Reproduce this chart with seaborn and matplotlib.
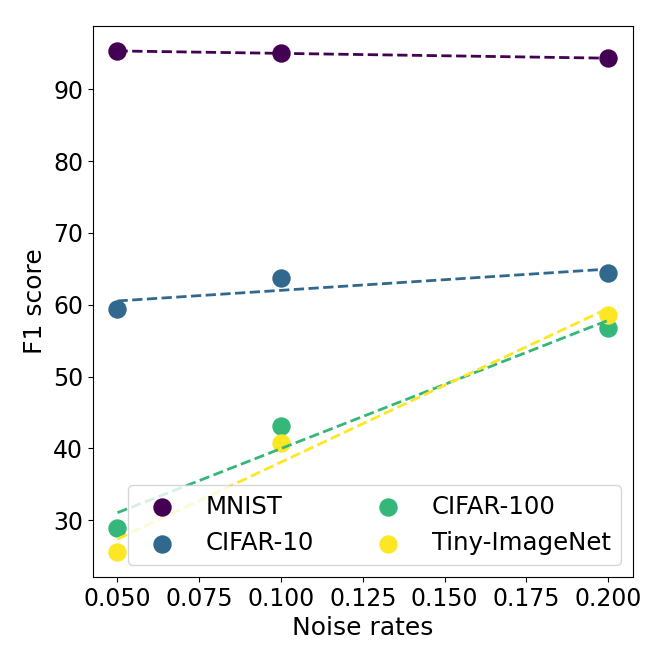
import numpy as np
import pandas as pd
import matplotlib
matplotlib.use('Agg')
import matplotlib.pyplot as plt
import seaborn as sns

# Noise rates and F1 scores
noise_rates = [0.05, 0.1, 0.2]
datasets = ['MNIST', 'CIFAR-10', 'CIFAR-100', 'Tiny-ImageNet']
mnist = [95.3, 95.0, 94.3]
cifar10 = [59.4, 63.7, 64.4]
cifar100 = [29.0, 43.1, 56.8]
tiny = [25.6, 40.8, 58.6]

scores = {'MNIST': mnist, 'CIFAR-10': cifar10, 'CIFAR-100': cifar100, 'Tiny-ImageNet': tiny}
colors = sns.color_palette('viridis', as_cmap=True)(np.linspace(0, 1, len(datasets)))

fig, ax = plt.subplots(figsize=(6.64, 6.64), dpi=100)
fig.subplots_adjust(left=0.140, right=0.953, top=0.961, bottom=0.131)

for name, c in zip(datasets, colors):
    df = pd.DataFrame({'noise': noise_rates, 'f1': scores[name]})
    sns.regplot(data=df, x='noise', y='f1', ax=ax, ci=None, color=c, label=name,
                scatter_kws={'s': 150, 'alpha': 1},
                line_kws={'linestyle': '--', 'linewidth': 2})

ax.set_xlabel('Noise rates', fontsize=18)
ax.set_ylabel('F1 score', fontsize=18)
ax.tick_params(labelsize=17)
ax.legend(loc='lower right', ncol=2, fontsize=17.6)

plt.savefig('out.png', dpi=100)
